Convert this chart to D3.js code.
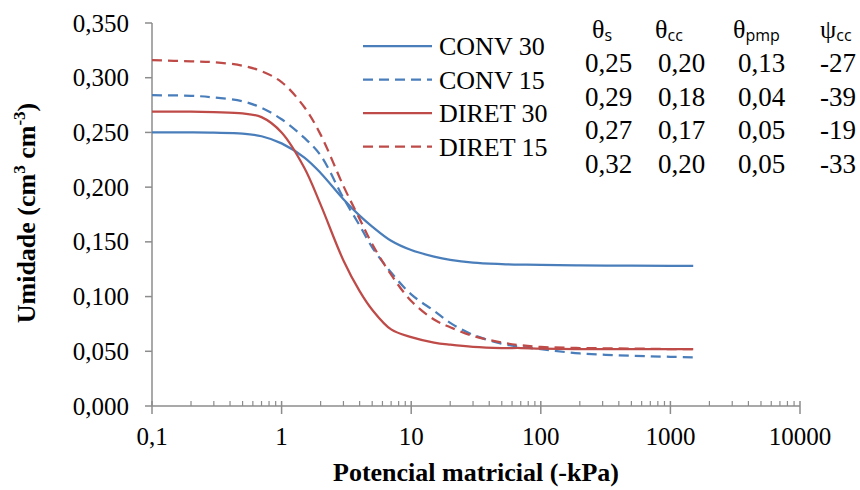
<!DOCTYPE html>
<html>
<head>
<meta charset="utf-8">
<script src="https://cdn.jsdelivr.net/npm/d3@7/dist/d3.min.js"></script>
<style>
  body { margin: 0; background: #fff; }
  text { font-family: "Liberation Serif", "Times New Roman", serif; fill: #000; }
</style>
</head>
<body>
<div id="chart"></div>
<script>
const potencial = [0.1, 0.2, 0.3, 0.5, 0.7, 1, 1.5, 2, 3, 4, 5, 7, 10, 15, 20, 30, 50, 70, 100, 200, 500, 1000, 1500];

// Umidade (cm3 cm-3) per series
const conv30  = [0.250, 0.250, 0.2498, 0.249, 0.2465, 0.240, 0.227, 0.213, 0.189, 0.174, 0.164, 0.151, 0.1425, 0.1365, 0.1335, 0.131, 0.1297, 0.1292, 0.129, 0.1285, 0.1282, 0.128, 0.128];
const conv15  = [0.284, 0.2835, 0.282, 0.2785, 0.2725, 0.262, 0.245, 0.229, 0.190, 0.165, 0.145, 0.122, 0.102, 0.087, 0.076, 0.065, 0.057, 0.054, 0.052, 0.048, 0.046, 0.045, 0.0445];
const diret30 = [0.269, 0.269, 0.2685, 0.2674, 0.264, 0.250, 0.2175, 0.184, 0.133, 0.105, 0.088, 0.070, 0.063, 0.058, 0.056, 0.054, 0.053, 0.053, 0.0525, 0.052, 0.052, 0.052, 0.052];
const diret15 = [0.316, 0.315, 0.3142, 0.311, 0.306, 0.296, 0.273, 0.248, 0.201, 0.171, 0.148, 0.120, 0.096, 0.079, 0.072, 0.064, 0.058, 0.0555, 0.054, 0.053, 0.0525, 0.052, 0.052];

const seriesNames = ["CONV 30", "CONV 15", "DIRET 30", "DIRET 15"];
const seriesValues = [conv30, conv15, diret30, diret15];

const yTicks = [0, 0.05, 0.10, 0.15, 0.20, 0.25, 0.30, 0.35];
const xTicks = [0.1, 1, 10, 100, 1000, 10000];
const xTickLabels = ["0,1", "1", "10", "100", "1000", "10000"];

// Parameter table
const tableHeaders = [["θ", "s"], ["θ", "cc"], ["θ", "pmp"], ["ψ", "cc"]];
const thetaS   = ["0,25", "0,29", "0,27", "0,32"];
const thetaCC  = ["0,20", "0,18", "0,17", "0,20"];
const thetaPMP = ["0,13", "0,04", "0,05", "0,05"];
const psiCC    = ["-27", "-39", "-19", "-33"];

const width = 860, height = 490;
const BLUE = "#4A7EBB", RED = "#BE4B48", AXIS = "#8C8C8C";
const styles = [
    { color: BLUE, dash: null },
    { color: BLUE, dash: "10,6" },
    { color: RED, dash: null },
    { color: RED, dash: "10,6" }
];

const svg = d3.select("#chart").append("svg")
    .attr("width", width)
    .attr("height", height);

const x = d3.scaleLog().domain([0.1, 10000]).range([152, 800]);
const y = d3.scaleLinear().domain([0, 0.35]).range([406, 23]);

const fmt = d3.formatLocale({ decimal: ",", thousands: ".", grouping: [3], currency: ["", ""] }).format(".3f");

// Y axis
const yAxis = svg.append("g");
yAxis.append("line")
    .attr("x1", x(0.1)).attr("x2", x(0.1))
    .attr("y1", y(0.35)).attr("y2", y(0))
    .attr("stroke", AXIS).attr("stroke-width", 1.5);
yAxis.selectAll("line.tick")
    .data(yTicks)
    .enter().append("line")
    .attr("class", "tick")
    .attr("x1", x(0.1) - 7).attr("x2", x(0.1))
    .attr("y1", d => y(d)).attr("y2", d => y(d))
    .attr("stroke", AXIS).attr("stroke-width", 1.5);
yAxis.selectAll("text")
    .data(yTicks)
    .enter().append("text")
    .attr("x", 129)
    .attr("y", d => y(d) + 8.5)
    .attr("text-anchor", "end")
    .attr("font-size", "25px")
    .text(d => fmt(d));

// X axis
const xAxis = svg.append("g");
xAxis.append("line")
    .attr("x1", x(0.1)).attr("x2", x(10000))
    .attr("y1", y(0)).attr("y2", y(0))
    .attr("stroke", AXIS).attr("stroke-width", 1.5);

const minorTicks = [];
for (let e = -1; e < 4; e++) {
    for (let m = 2; m <= 9; m++) minorTicks.push(m * Math.pow(10, e));
}
xAxis.selectAll("line.minor")
    .data(minorTicks)
    .enter().append("line")
    .attr("class", "minor")
    .attr("x1", d => x(d)).attr("x2", d => x(d))
    .attr("y1", y(0) - 5).attr("y2", y(0))
    .attr("stroke", AXIS).attr("stroke-width", 1.2);
xAxis.selectAll("line.major")
    .data(xTicks)
    .enter().append("line")
    .attr("class", "major")
    .attr("x1", d => x(d)).attr("x2", d => x(d))
    .attr("y1", y(0) - 5).attr("y2", y(0) + 8)
    .attr("stroke", AXIS).attr("stroke-width", 1.5);
xAxis.selectAll("text")
    .data(xTicks)
    .enter().append("text")
    .attr("x", d => x(d))
    .attr("y", 445)
    .attr("text-anchor", "middle")
    .attr("font-size", "25px")
    .text((d, i) => xTickLabels[i]);

// Axis titles
svg.append("text")
    .attr("x", 476)
    .attr("y", 481)
    .attr("text-anchor", "middle")
    .attr("font-size", "26px")
    .attr("font-weight", "bold")
    .text("Potencial matricial (-kPa)");

const yTitle = svg.append("text")
    .attr("transform", "translate(35,213) rotate(-90)")
    .attr("text-anchor", "middle")
    .attr("font-size", "26px")
    .attr("font-weight", "bold");
yTitle.append("tspan").text("Umidade (cm");
yTitle.append("tspan").attr("font-size", "17px").attr("dy", -10).text("3");
yTitle.append("tspan").attr("dy", 10).text(" cm");
yTitle.append("tspan").attr("font-size", "17px").attr("dy", -10).text("-3");
yTitle.append("tspan").attr("dy", 10).text(")");

// Curves
const line = d3.line()
    .x(d => x(d[0]))
    .y(d => y(d[1]))
    .curve(d3.curveCatmullRom.alpha(0.5));

svg.append("g").selectAll("path")
    .data(seriesValues)
    .enter().append("path")
    .attr("d", vals => line(potencial.map((p, i) => [p, vals[i]])))
    .attr("fill", "none")
    .attr("stroke", (d, i) => styles[i].color)
    .attr("stroke-width", 2.25)
    .attr("stroke-dasharray", (d, i) => styles[i].dash);

// Legend
const legend = svg.append("g").selectAll("g")
    .data(seriesNames)
    .enter().append("g")
    .attr("transform", (d, i) => `translate(363,${46 + i * 33.5})`);
legend.append("line")
    .attr("x1", 0).attr("x2", 69)
    .attr("stroke", (d, i) => styles[i].color)
    .attr("stroke-width", 2.25)
    .attr("stroke-dasharray", (d, i) => styles[i].dash);
legend.append("text")
    .attr("x", 76)
    .attr("y", 9)
    .attr("font-size", "26px")
    .text(d => d);

// Table
const headerX = [592, 655, 733, 820];
const colX = [585, 658, 738, 820];
const header = svg.append("g").selectAll("text")
    .data(tableHeaders)
    .enter().append("text")
    .attr("x", (d, i) => headerX[i])
    .attr("y", 38)
    .attr("font-size", "26px");
header.append("tspan").text(d => d[0]);
header.append("tspan")
    .attr("dy", 3)
    .attr("font-size", "16px")
    .style("font-family", "'Open Sans', sans-serif")
    .text(d => d[1]);

const columns = [thetaS, thetaCC, thetaPMP, psiCC];
columns.forEach((col, c) => {
    svg.append("g").selectAll("text")
        .data(col)
        .enter().append("text")
        .attr("x", colX[c])
        .attr("y", (d, r) => 72 + r * 33.6)
        .attr("font-size", "27px")
        .text(d => d);
});
</script>
</body>
</html>
